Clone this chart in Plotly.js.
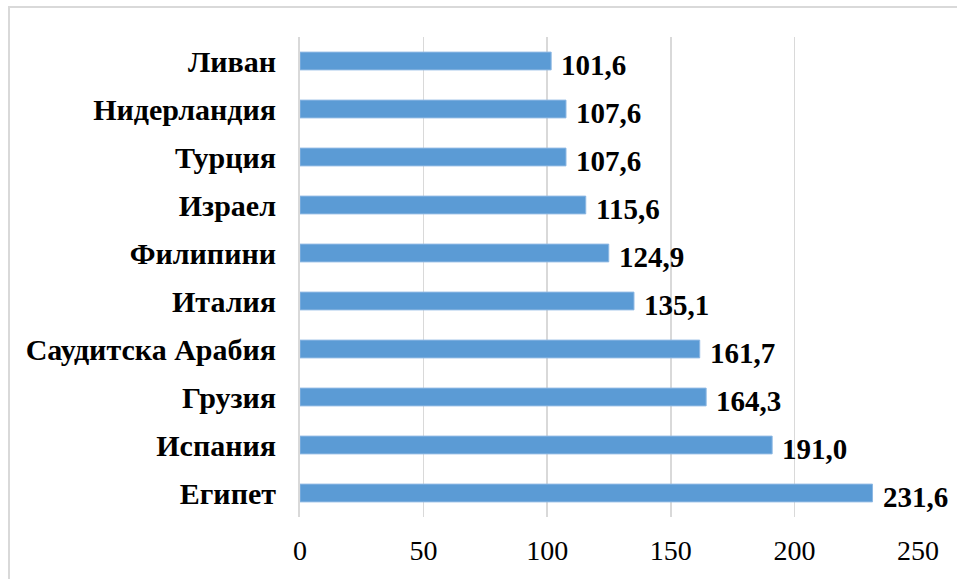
<!DOCTYPE html>
<html>
<head>
<meta charset="utf-8">
<script src="https://cdn.plot.ly/plotly-3.0.1.min.js"></script>
<style>
  html, body { margin: 0; padding: 0; background: #fff; overflow: hidden; }
  #chart { width: 957px; height: 579px; }
  #frame { position: absolute; left: 8px; top: 6px; width: 2000px; height: 2000px;
           border-left: 2px solid #d9d9d9; border-top: 2px solid #d9d9d9; pointer-events: none; }
</style>
</head>
<body>
<div id="chart"></div>
<div id="frame"></div>
<script>
const countries = ["Ливан", "Нидерландия", "Турция", "Израел", "Филипини",
                   "Италия", "Саудитска Арабия", "Грузия", "Испания", "Египет"];
const values = [101.6, 107.6, 107.6, 115.6, 124.9, 135.1, 161.7, 164.3, 191.0, 231.6];
const valueLabels = ["101,6", "107,6", "107,6", "115,6", "124,9",
                     "135,1", "161,7", "164,3", "191,0", "231,6"];
const xTicks = [0, 50, 100, 150, 200, 250];

const serif = "Liberation Serif, Times New Roman, serif";

const trace = {
  type: "bar",
  orientation: "h",
  x: values,
  y: countries,
  width: 0.37,
  marker: { color: "#5b9bd5", line: { color: "#8db8e3", width: 1 } },
  hoverinfo: "x+y"
};

const annotations = values.map((v, i) => ({
  x: v, y: countries[i], xref: "x", yref: "y",
  text: valueLabels[i], showarrow: false,
  xanchor: "left", yanchor: "middle", xshift: 8, yshift: -4,
  font: { family: serif, size: 29, color: "#000", weight: "bold" }
}));

const layout = {
  width: 957, height: 579,
  margin: { l: 300, r: 39, t: 37, b: 62 },
  paper_bgcolor: "#fff", plot_bgcolor: "#fff",
  showlegend: false,
  xaxis: {
    range: [0, 250],
    tickvals: xTicks,
    ticktext: xTicks.map(String),
    showgrid: true, gridcolor: "#d9d9d9", gridwidth: 1.5,
    zeroline: false, showline: false, ticks: "",
    ticklabelstandoff: 14,
    tickfont: { family: serif, size: 28, color: "#000" }
  },
  yaxis: {
    type: "category",
    autorange: "reversed",
    showgrid: false, zeroline: false,
    showline: true, linecolor: "#d9d9d9", linewidth: 2,
    ticks: "", ticklabelstandoff: 16,
    tickfont: { family: serif, size: 30, color: "#000", weight: "bold" }
  },
  annotations: annotations
};

Plotly.newPlot("chart", [trace], layout, { displayModeBar: false, staticPlot: true });
</script>
</body>
</html>
